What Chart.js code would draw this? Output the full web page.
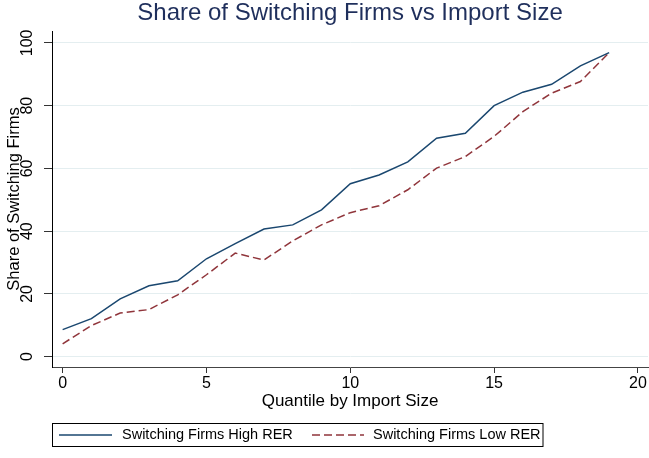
<!DOCTYPE html>
<html>
<head>
<meta charset="utf-8">
<script src="https://cdn.jsdelivr.net/npm/chart.js@4/dist/chart.umd.min.js"></script>
<style>
html,body{margin:0;padding:0;background:#fff;}
#wrap{width:649px;height:458px;position:relative;}
</style>
</head>
<body>
<div id="wrap"><canvas id="c" width="649" height="458"></canvas></div>
<script>
// ---- data ----
const quantiles = [0,1,2,3,4,5,6,7,8,9,10,11,12,13,14,15,16,17,18,19];
const highRER = [8.6,12.1,18.4,22.6,24.2,31.2,36.0,40.7,42.0,46.8,55.1,57.9,62.1,69.6,71.2,80.0,84.3,86.8,92.7,96.9];
const lowRER  = [4.1,9.9,13.9,15.0,19.7,26.1,33.0,30.8,36.9,42.0,45.9,48.1,53.2,60.1,63.8,70.2,78.1,84.0,87.7,96.9];
const xTicks = [0,5,10,15,20];
const yTicks = [0,20,40,60,80,100];
const seriesNames = ['Switching Firms High RER','Switching Firms Low RER'];
const titleText = 'Share of Switching Firms vs Import Size';
const xTitle = 'Quantile by Import Size';
const yTitle = 'Share of Switching Firms';

const FONT = "'Liberation Sans', Arial, sans-serif";
const BLUE = '#1a476f';
const RED = '#90353b';

const legendPlugin = {
  id: 'stataLegend',
  afterDraw(chart) {
    const ctx = chart.ctx;
    const box = {x: 52.5, y: 423.5, w: 490.5, h: 23};
    ctx.save();
    ctx.strokeStyle = '#000';
    ctx.lineWidth = 1;
    ctx.strokeRect(box.x, box.y, box.w, box.h);
    const items = [
      {x0: 59, x1: 112, tx: 122},
      {x0: 312, x1: 364, tx: 373}
    ];
    const cy = box.y + box.h / 2;
    chart.data.datasets.forEach((ds, i) => {
      const it = items[i];
      ctx.beginPath();
      ctx.setLineDash(ds.borderDash || []);
      ctx.strokeStyle = ds.borderColor;
      ctx.lineWidth = ds.borderWidth;
      ctx.moveTo(it.x0, cy);
      ctx.lineTo(it.x1, cy);
      ctx.stroke();
      ctx.setLineDash([]);
      ctx.fillStyle = '#000';
      ctx.font = "14.5px " + FONT;
      ctx.textBaseline = 'middle';
      ctx.textAlign = 'left';
      ctx.fillText(ds.label, it.tx, cy);
    });
    ctx.restore();
  }
};

const bgPlugin = {
  id: 'bg',
  beforeDraw(chart) {
    const ctx = chart.ctx;
    ctx.save();
    ctx.fillStyle = '#fff';
    ctx.fillRect(0, 0, chart.width, chart.height);
    ctx.restore();
  }
};

new Chart(document.getElementById('c'), {
  type: 'line',
  data: {
    datasets: [
      {
        label: seriesNames[0],
        data: quantiles.map((q, i) => ({x: q, y: highRER[i]})),
        borderColor: BLUE,
        backgroundColor: BLUE,
        borderWidth: 1.5,
        pointRadius: 0,
        tension: 0,
        fill: false
      },
      {
        label: seriesNames[1],
        data: quantiles.map((q, i) => ({x: q, y: lowRER[i]})),
        borderColor: RED,
        backgroundColor: RED,
        borderWidth: 1.5,
        borderDash: [8, 4],
        pointRadius: 0,
        tension: 0,
        fill: false
      }
    ]
  },
  options: {
    responsive: false,
    animation: false,
    devicePixelRatio: 1,
    layout: {padding: {left: 0, right: 1, top: 0, bottom: 46}},
    plugins: {
      legend: {display: false},
      tooltip: {enabled: false},
      title: {
        display: true,
        text: titleText,
        fullSize: false,
        color: '#1f2f5c',
        font: {family: FONT, size: 24, weight: 'normal', lineHeight: 1},
        padding: {top: 1, bottom: 6}
      }
    },
    scales: {
      x: {
        type: 'linear',
        min: -0.37,
        max: 20.35,
        afterBuildTicks: s => { s.ticks = xTicks.map(v => ({value: v})); },
        afterFit: s => { s.height = 45; },
        grid: {drawOnChartArea: false, drawTicks: true, tickLength: 6, tickColor: '#333', tickWidth: 1},
        border: {display: true, color: '#444', width: 1},
        ticks: {
          color: '#000',
          font: {family: FONT, size: 16},
          padding: 1,
          maxRotation: 0,
          minRotation: 0
        },
        title: {
          display: true,
          text: xTitle,
          color: '#000',
          font: {family: FONT, size: 17},
          padding: {top: 0, bottom: 0}
        }
      },
      y: {
        type: 'linear',
        min: -3.3,
        max: 103.8,
        afterBuildTicks: s => { s.ticks = yTicks.map(v => ({value: v})); },
        afterFit: s => { s.width = 52; },
        grid: {color: '#e4eef0', lineWidth: 1, drawTicks: true, tickLength: 8, tickColor: '#333', tickWidth: 1},
        border: {display: true, color: '#000', width: 1},
        ticks: {
          color: '#000',
          font: {family: FONT, size: 16},
          padding: 3,
          minRotation: 90,
          maxRotation: 90,
          crossAlign: 'center'
        },
        title: {
          display: true,
          text: yTitle,
          color: '#000',
          font: {family: FONT, size: 16.5},
          padding: {top: 5, bottom: 0}
        }
      }
    }
  },
  plugins: [bgPlugin, legendPlugin]
});
</script>
</body>
</html>
